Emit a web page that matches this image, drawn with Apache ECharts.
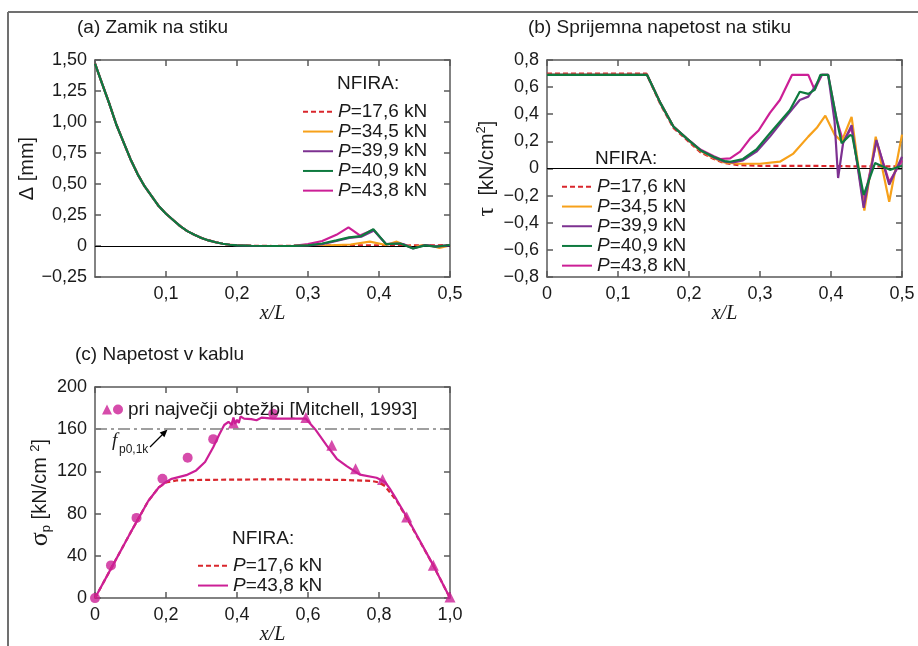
<!DOCTYPE html>
<html><head><meta charset="utf-8">
<script src="https://cdn.jsdelivr.net/npm/echarts@6/dist/echarts.min.js"></script>
<style>html,body{margin:0;padding:0;background:#fff}#c{width:918px;height:646px}</style>
</head><body><div id="c"></div>
<script>
// ---------- Panel (a): slip at joint, Δ [mm] vs x/L ----------
const deltaStart = [[0,1.47],[0.01,1.31],[0.02,1.15],[0.03,0.98],[0.04,0.84],[0.05,0.70],[0.06,0.58],[0.07,0.48],[0.08,0.40],[0.09,0.32],[0.10,0.26],[0.11,0.21],[0.12,0.16],[0.13,0.12],[0.14,0.09],[0.15,0.065],[0.16,0.045],[0.17,0.03],[0.18,0.018],[0.19,0.01],[0.20,0.005],[0.22,0.002],[0.25,0.0],[0.28,0.001]];
const deltaTail176 = [[0.30,0.003],[0.35,0.005],[0.40,0.005],[0.42,0.008],[0.44,0.004],[0.46,0.006],[0.48,0.005],[0.50,0.008]];
const deltaTail345 = [[0.30,0.002],[0.33,0.005],[0.36,0.012],[0.387,0.035],[0.41,0.008],[0.425,0.035],[0.435,0.01],[0.448,-0.01],[0.46,0.005],[0.475,0.0],[0.485,-0.015],[0.50,0.005]];
const deltaTail399 = [[0.30,0.004],[0.32,0.015],[0.34,0.04],[0.358,0.065],[0.375,0.075],[0.393,0.125],[0.41,0.015],[0.425,0.02],[0.435,0.015],[0.448,-0.02],[0.465,0.008],[0.48,-0.005],[0.50,0.005]];
const deltaTail409 = [[0.30,0.005],[0.32,0.02],[0.34,0.045],[0.358,0.07],[0.375,0.08],[0.392,0.135],[0.41,0.015],[0.43,0.02],[0.448,-0.02],[0.465,0.005],[0.48,-0.005],[0.50,0.008]];
const deltaTail438 = [[0.30,0.015],[0.32,0.04],[0.34,0.09],[0.357,0.15],[0.373,0.085],[0.392,0.13],[0.41,0.015],[0.43,0.018],[0.448,-0.015],[0.465,0.008],[0.48,0.0],[0.50,0.005]];

// ---------- Panel (b): bond stress τ [kN/cm²] vs x/L ----------
const tau176 = [[0,0.70],[0.14,0.70],[0.16,0.47],[0.178,0.30],[0.197,0.21],[0.216,0.12],[0.235,0.07],[0.25,0.04],[0.27,0.025],[0.30,0.02],[0.35,0.02],[0.40,0.018],[0.45,0.015],[0.50,0.015]];
const tau345 = [[0,0.69],[0.141,0.69],[0.16,0.48],[0.178,0.31],[0.197,0.22],[0.216,0.13],[0.235,0.075],[0.25,0.045],[0.27,0.035],[0.30,0.035],[0.328,0.05],[0.347,0.11],[0.368,0.235],[0.38,0.30],[0.392,0.39],[0.405,0.25],[0.415,0.20],[0.429,0.38],[0.447,-0.31],[0.463,0.235],[0.482,-0.245],[0.50,0.25]];
const tau399 = [[0,0.69],[0.141,0.69],[0.16,0.48],[0.178,0.31],[0.197,0.22],[0.216,0.135],[0.235,0.08],[0.25,0.05],[0.262,0.045],[0.276,0.06],[0.295,0.124],[0.314,0.235],[0.333,0.36],[0.356,0.505],[0.368,0.53],[0.377,0.60],[0.387,0.69],[0.396,0.69],[0.405,0.35],[0.41,-0.07],[0.417,0.186],[0.429,0.32],[0.446,-0.29],[0.464,0.21],[0.482,-0.12],[0.50,0.087]];
const tau409 = [[0,0.69],[0.141,0.69],[0.16,0.48],[0.178,0.31],[0.197,0.22],[0.216,0.135],[0.235,0.085],[0.25,0.055],[0.258,0.05],[0.276,0.07],[0.295,0.14],[0.314,0.26],[0.342,0.43],[0.356,0.566],[0.368,0.55],[0.377,0.58],[0.385,0.69],[0.396,0.69],[0.408,0.36],[0.415,0.186],[0.427,0.247],[0.43,0.24],[0.446,-0.196],[0.462,0.04],[0.483,-0.01],[0.50,0.02]];
const tau438 = [[0,0.69],[0.141,0.69],[0.16,0.48],[0.178,0.31],[0.197,0.22],[0.216,0.14],[0.235,0.09],[0.244,0.07],[0.258,0.075],[0.272,0.124],[0.286,0.22],[0.298,0.28],[0.314,0.41],[0.328,0.505],[0.345,0.69],[0.368,0.69],[0.377,0.58],[0.387,0.69],[0.396,0.69],[0.408,0.36],[0.417,0.20],[0.429,0.30],[0.446,-0.25],[0.464,0.20],[0.482,-0.10],[0.50,0.06]];

// ---------- Panel (c): tendon stress σp [kN/cm²] vs x/L ----------
const sigma176 = [[0,0],[0.05,31],[0.10,62],[0.15,92],[0.18,105],[0.20,109.5],[0.23,111.5],[0.30,112],[0.50,112.5],[0.70,112],[0.78,111],[0.80,109.5],[0.817,106],[0.85,92],[0.878,76],[0.953,31],[1.0,0]];
const sigma438 = [[0,0],[0.05,31],[0.10,62],[0.15,92],[0.18,105],[0.20,110],[0.216,113],[0.257,116.5],[0.285,121],[0.31,129],[0.333,143],[0.35,155],[0.364,164],[0.376,167],[0.385,164],[0.39,171],[0.395,165],[0.40,169],[0.405,166],[0.41,172],[0.42,170],[0.44,169.5],[0.455,168.5],[0.47,171],[0.50,170],[0.594,170],[0.62,160],[0.652,145],[0.681,132],[0.709,125],[0.746,117],[0.793,114],[0.817,110],[0.83,104],[0.85,93],[0.878,77],[0.953,31],[1.0,0]];
const mitchellCircles = [[0,0],[0.045,31],[0.117,76],[0.19,113],[0.261,133],[0.333,150.6],[0.502,174.7]];
const mitchellTriangles = [[0.39,166],[0.594,171],[0.667,144.7],[0.734,122.5],[0.81,112.3],[0.878,76.9],[0.953,31.2],[1.0,1]];
const fp01k = 160;

// tick ranges
const xTicksAB = {min:0, max:0.5, interval:0.1};
const yTicksA = {min:-0.25, max:1.5, interval:0.25};
const yTicksB = {min:-0.8, max:0.8, interval:0.2};
const xTicksC = {min:0, max:1.0, interval:0.2};
const yTicksC = {min:0, max:200, interval:40};

const loadLabels = ['17,6','34,5','39,9','40,9','43,8'];
const colors = ['#d9262c','#f7a11a','#7d3191','#0e7a3f','#cc1f96'];

const AX = '#5a5a5a';
const FONT = 'Liberation Sans';
const TXT = '#1a1a1a';

function num(v, d){
  if (Math.abs(v) < 1e-9) return '0';
  return v.toFixed(d).replace('.', ',').replace('-', '\u2212');
}
function axisBase(gridIndex, t, position, showLabel, fmt, extra){
  return Object.assign({
    gridIndex, type:'value', min:t.min, max:t.max, interval:t.interval, position,
    axisLine:{show:true, onZero:false, lineStyle:{color:AX, width:1.5}},
    axisTick:{show:true, inside:true, length:6, lineStyle:{color:AX, width:1.5}},
    splitLine:{show:false},
    axisLabel:{show:showLabel, formatter:fmt, fontSize:18, color:TXT, fontFamily:FONT, margin:8}
  }, extra || {});
}
const xName = {name:'x/L', nameLocation:'middle', nameGap:22,
  nameTextStyle:{fontFamily:'Liberation Serif', fontStyle:'italic', fontSize:20, color:TXT}};

const xAxis = [
  axisBase(0, xTicksAB, 'bottom', true, v=>num(v,1), Object.assign({}, xName)),
  axisBase(0, xTicksAB, 'top', false),
  axisBase(1, xTicksAB, 'bottom', true, v=>num(v,1), Object.assign({}, xName)),
  axisBase(1, xTicksAB, 'top', false),
  axisBase(2, xTicksC, 'bottom', true, v=>num(v,1), Object.assign({}, xName)),
  axisBase(2, xTicksC, 'top', false)
];
xAxis[0].axisLabel.showMinLabel = false;

const yAxis = [
  axisBase(0, yTicksA, 'left', true, v=>num(v,2), {name:'\u0394 [mm]', nameLocation:'middle', nameGap:50,
    nameTextStyle:{fontSize:20, color:TXT, fontFamily:FONT}}),
  axisBase(0, yTicksA, 'right', false),
  axisBase(1, yTicksB, 'left', true, v=>num(v,1), {name:'{g|\u03c4}  [kN/cm{sup|2}]', nameLocation:'middle', nameGap:48,
    nameTextStyle:{fontSize:20, color:TXT, fontFamily:FONT, rich:{
      g:{fontSize:24, fontFamily:'Liberation Serif', color:TXT},
      sup:{fontSize:13, verticalAlign:'top', padding:[0,0,10,0], color:TXT, fontFamily:FONT}}}}),
  axisBase(1, yTicksB, 'right', false),
  axisBase(2, yTicksC, 'left', true, v=>num(v,0), {name:'{g|\u03c3}{sub|p} [kN/cm {sup|2}]', nameLocation:'middle', nameGap:38,
    nameTextStyle:{fontSize:20, color:TXT, fontFamily:FONT, rich:{
      g:{fontSize:26, fontFamily:'Liberation Serif', color:TXT},
      sub:{fontSize:13, padding:[12,0,0,0], color:TXT, fontFamily:FONT},
      sup:{fontSize:13, padding:[0,0,10,0], color:TXT, fontFamily:FONT}}}}),
  axisBase(2, yTicksC, 'right', false)
];

function lineSeries(id, data, color, dashed, xi, yi, z){
  return {name:id, type:'line', data, xAxisIndex:xi, yAxisIndex:yi, showSymbol:false, symbol:'none',
    smooth:false, z:z, lineStyle:{color, width:2.2, type: dashed ? [5,3] : 'solid'}, itemStyle:{color}};
}
const labelsById = {};
const series = [];
const tailsA = [deltaTail176, deltaTail345, deltaTail399, deltaTail409, deltaTail438];
const tausB = [tau176, tau345, tau399, tau409, tau438];
const zOrder = [3,4,5,6,2];
for (let i=0;i<5;i++){
  const ida = 'a'+i, idb = 'b'+i;
  labelsById[ida] = loadLabels[i]; labelsById[idb] = loadLabels[i];
  series.push(lineSeries(ida, deltaStart.concat(tailsA[i]), colors[i], i===0, 0, 0, zOrder[i]));
  series.push(lineSeries(idb, tausB[i], colors[i], i===0, 2, 2, zOrder[i]));
}
labelsById['c0'] = loadLabels[0]; labelsById['c4'] = loadLabels[4];
series.push(lineSeries('c0', sigma176, colors[0], true, 4, 4, 3));
series.push(lineSeries('c4', sigma438, colors[4], false, 4, 4, 4));
series.push({name:'tri', type:'scatter', data:mitchellTriangles, xAxisIndex:4, yAxisIndex:4, symbol:'triangle', symbolSize:11, z:2, itemStyle:{color:colors[4]}});
series.push({name:'circ', type:'scatter', data:mitchellCircles, xAxisIndex:4, yAxisIndex:4, symbol:'circle', symbolSize:10, z:2, itemStyle:{color:colors[4]}});

// zero lines and f_p0,1k reference line
const zeroLine = {silent:true, symbol:'none', label:{show:false}, lineStyle:{color:'#000', width:1.2, type:'solid'}, data:[{yAxis:0}]};
series.push({name:'zeroA', type:'line', data:[], xAxisIndex:0, yAxisIndex:0, z:1, markLine:zeroLine});
series.push({name:'zeroB', type:'line', data:[], xAxisIndex:2, yAxisIndex:2, z:1, markLine:zeroLine});
series.push({name:'fp', type:'line', data:[], xAxisIndex:4, yAxisIndex:4, z:1,
  markLine:{silent:true, symbol:'none', label:{show:false}, lineStyle:{color:'#808080', width:1.5, type:[12,4,3,4]}, data:[{yAxis:fp01k}]}});

const legTxt = {fontSize:19, color:TXT, fontFamily:FONT, lineHeight:19.7,
  rich:{i:{fontStyle:'italic', fontSize:19, color:TXT, fontFamily:FONT}}};
const legFmt = n => '{i|P}=' + labelsById[n] + ' kN';
function legendAt(ids, left, top){
  return {data:ids, orient:'vertical', left, top, itemWidth:30, itemHeight:10, itemGap:0,
    selectedMode:false, formatter:legFmt, textStyle:legTxt, itemStyle:{opacity:0}};
}
const legend = [
  legendAt(['a0','a1','a2','a3','a4'], 297, 97),
  legendAt(['b0','b1','b2','b3','b4'], 556, 172),
  legendAt(['c0','c4'], 192, 551),
  {data:['tri','circ'], orient:'horizontal', left:97, top:395, itemWidth:10, itemHeight:10, itemGap:1,
    selectedMode:false, formatter:n => n==='tri' ? '' : 'pri največji obtežbi [Mitchell, 1993]',
    textStyle:{fontSize:19, color:TXT, fontFamily:FONT}}
];

function txt(x, y, s, size, extra){
  return {type:'text', x, y, silent:true, style:Object.assign({text:s, fontSize:size, fontFamily:FONT, fill:TXT,
    textVerticalAlign:'middle', verticalAlign:'middle', textAlign:'left', align:'left'}, extra||{})};
}
const graphic = [
  {type:'line', silent:true, shape:{x1:8, y1:12, x2:918, y2:12}, style:{stroke:'#707070', lineWidth:2}},
  {type:'line', silent:true, shape:{x1:8, y1:12, x2:8, y2:646}, style:{stroke:'#707070', lineWidth:2}},
  txt(77, 28, '(a) Zamik na stiku', 19),
  txt(528, 28, '(b) Sprijemna napetost na stiku', 19),
  txt(75, 355, '(c) Napetost v kablu', 19),
  txt(337, 84, 'NFIRA:', 19),
  txt(595, 159, 'NFIRA:', 19),
  txt(232, 539, 'NFIRA:', 19),
  txt(112, 441, 'f', 19, {fontStyle:'italic', fontFamily:'Liberation Serif'}),
  txt(119, 450, 'p0,1k', 12),
  {type:'polyline', silent:true, shape:{points:[[150,447],[165,432]]}, style:{stroke:'#000', lineWidth:1.3, fill:null}},
  {type:'polygon', silent:true, shape:{points:[[167.5,429.5],[164.4,437.3],[159.7,432.6]]}, style:{fill:'#000'}}
];

const chart = echarts.init(document.getElementById('c'), null, {renderer:'canvas'});
chart.setOption({
  animation:false, backgroundColor:'#fff',
  textStyle:{fontFamily:FONT},
  grid:[{left:95, top:60, width:355, height:217},{left:547, top:60, width:355, height:217},{left:95, top:387, width:355, height:216}],
  xAxis, yAxis, legend, series, graphic
});
</script></body></html>
